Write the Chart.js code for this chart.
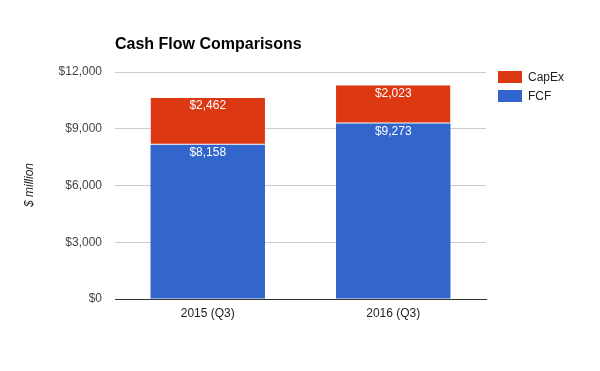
<!DOCTYPE html>
<html>
<head>
<meta charset="utf-8">
<script src="https://cdn.jsdelivr.net/npm/chart.js@4"></script>
<style>
  html, body { margin: 0; padding: 0; background: #fff; }
  #wrap { width: 600px; height: 371px; }
</style>
</head>
<body>
<div id="wrap"><canvas id="chart" width="600" height="371"></canvas></div>
<script>
const periods = ['2015 (Q3)', '2016 (Q3)'];
const fcf = [8158, 9273];
const capex = [2462, 2023];
const yTicks = [0, 3000, 6000, 9000, 12000];

const fmt = v => '$' + v.toLocaleString('en-US');
const FONT = 'Arial, "Liberation Sans", sans-serif';

// title, y title, legend and the white value labels
const extras = {
    id: 'extras',
    afterDatasetsDraw(chart) {
        const ctx = chart.ctx;
        ctx.save();
        // value labels inside segments
        ctx.fillStyle = '#fff';
        ctx.font = '12px ' + FONT;
        ctx.textAlign = 'center';
        ctx.textBaseline = 'middle';
        chart.data.datasets.forEach((ds, i) => {
            chart.getDatasetMeta(i).data.forEach((bar, j) => {
                ctx.fillText(fmt(ds.data[j]), bar.x, bar.y + 8);
            });
        });

        // title
        ctx.fillStyle = '#000';
        ctx.font = 'bold 16px ' + FONT;
        ctx.textAlign = 'left';
        ctx.textBaseline = 'middle';
        ctx.fillText('Cash Flow Comparisons', chart.chartArea.left, 45);

        // y axis title
        ctx.save();
        ctx.translate(30, 185);
        ctx.rotate(-Math.PI / 2);
        ctx.font = 'italic 12px ' + FONT;
        ctx.fillStyle = '#222';
        ctx.textAlign = 'center';
        ctx.fillText('$ million', 0, 0);
        ctx.restore();

        // legend (CapEx on top, FCF below)
        const order = [1, 0];
        order.forEach((idx, k) => {
            const ds = chart.data.datasets[idx];
            const y = 71 + k * 19;
            ctx.fillStyle = ds.backgroundColor;
            ctx.fillRect(498, y, 24, 12);
            ctx.fillStyle = '#222';
            ctx.font = '12px ' + FONT;
            ctx.textAlign = 'left';
            ctx.fillText(ds.label, 528, y + 6.5);
        });
        ctx.restore();
    }
};

const data = {
    labels: periods,
    datasets: [{
        label: 'FCF',
        data: fcf,
        backgroundColor: '#3366cc',
        borderWidth: 0,
        categoryPercentage: 0.617,
        barPercentage: 1
    },
    {
        label: 'CapEx',
        data: capex,
        backgroundColor: '#dc3912',
        borderColor: '#ffffff',
        borderWidth: { bottom: 1 },
        borderSkipped: false,
        categoryPercentage: 0.617,
        barPercentage: 1
    }]
};

const config = {
    type: 'bar',
    data,
    plugins: [extras],
    options: {
        responsive: false,
        animation: false,
        layout: {
            padding: { top: 72, right: 114, bottom: 0, left: 0 }
        },
        plugins: {
            legend: { display: false },
            tooltip: { enabled: false }
        },
        scales: {
            x: {
                stacked: true,
                z: 1,
                grid: { display: false, drawTicks: false },
                border: { display: true, color: '#333', width: 1 },
                ticks: { color: '#222', font: { size: 12, family: FONT }, padding: 7 },
                afterFit: s => { s.height = 72; }
            },
            y: {
                stacked: true,
                min: 0,
                max: 12000,
                afterBuildTicks: s => { s.ticks = yTicks.map(v => ({ value: v })); },
                grid: { color: '#cccccc', drawTicks: false },
                border: { display: false },
                ticks: {
                    color: '#444',
                    font: { size: 12, family: FONT },
                    padding: 13,
                    callback: v => fmt(v)
                },
                afterFit: s => { s.width = 115; }
            }
        }
    }
};

var chart = document.getElementById('chart');
var myChart = new Chart(chart, config);
</script>
</body>
</html>
